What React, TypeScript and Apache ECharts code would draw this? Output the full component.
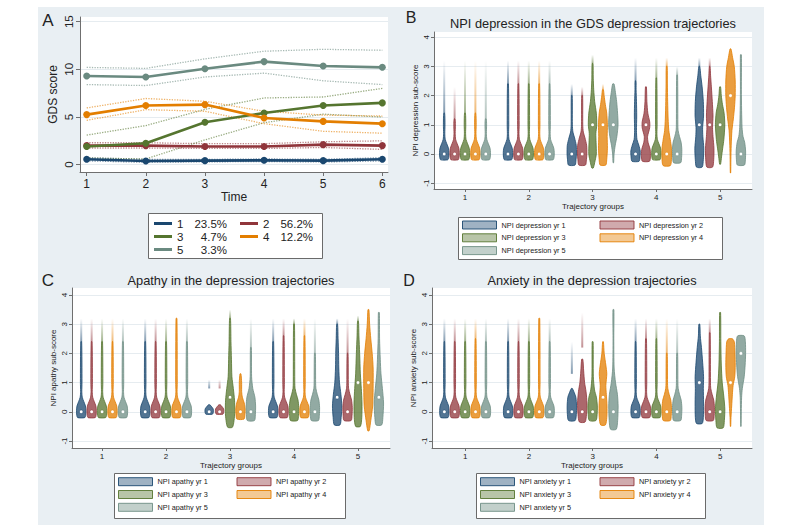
import React, { useEffect, useRef } from "react";
import * as echarts from "echarts";

const FONT = '"Liberation Sans", Arial, Helvetica, sans-serif';
const TXT = "#222222";
const AXISC = "#6f6f6f";
const GRIDC = "#e6ecf0";
const BG = "#e9eff3";

// ---------------- Panel A : GDS trajectories ----------------
const TIME = [1, 2, 3, 4, 5, 6];
const A_Y_TICKS = [0, 5, 10, 15];
const GROUPS = ["1", "2", "3", "4", "5"];
const GROUP_SHARE = ["23.5%", "56.2%", "4.7%", "12.2%", "3.3%"];
const GROUP_COLORS = ["#1a476f", "#90353b", "#55752f", "#e37e00", "#6a8a80"];
const MEAN_G1 = [0.56, 0.39, 0.42, 0.46, 0.42, 0.56];
const MEAN_G2 = [2.0, 2.0, 1.9, 1.9, 2.1, 2.0];
const MEAN_G3 = [1.9, 2.25, 4.44, 5.42, 6.2, 6.48];
const MEAN_G4 = [5.25, 6.2, 6.3, 4.9, 4.54, 4.3];
const MEAN_G5 = [9.3, 9.19, 10.07, 10.81, 10.35, 10.21];
const LO_G1 = [0.4, 0.25, 0.3, 0.32, 0.28, 0.4];
const HI_G1 = [0.72, 0.55, 0.55, 0.6, 0.56, 0.72];
const LO_G2 = [1.75, 1.75, 1.7, 1.7, 1.8, 1.6];
const HI_G2 = [2.3, 2.3, 2.2, 2.2, 2.4, 2.5];
const LO_G3 = [0.7, 0.6, 2.6, 4.4, 5.3, 5.0];
const HI_G3 = [3.1, 4.1, 5.8, 7.0, 7.1, 8.0];
const LO_G4 = [4.65, 5.77, 5.6, 4.3, 3.5, 3.3];
const HI_G4 = [5.95, 6.94, 6.65, 5.6, 5.2, 5.1];
const LO_G5 = [8.4, 8.3, 9.2, 9.6, 8.8, 8.4];
const HI_G5 = [10.2, 10.1, 11.1, 11.9, 12.1, 12.0];
const MEANS = [MEAN_G1, MEAN_G2, MEAN_G3, MEAN_G4, MEAN_G5];
const LOWS = [LO_G1, LO_G2, LO_G3, LO_G4, LO_G5];
const HIGHS = [HI_G1, HI_G2, HI_G3, HI_G4, HI_G5];

// ---------------- Violin panels ----------------
const TRAJ_GROUPS = [1, 2, 3, 4, 5];
const VIO_Y_TICKS = [-1, 0, 1, 2, 3, 4];
const YEARS = [1, 2, 3, 4, 5];
const YEAR_COLORS = ["#1a476f", "#90353b", "#55752f", "#e37e00", "#6e8e84"];

// density profiles: [score, relative half width]
const LOW = [[-0.2, 0.75], [-0.12, 0.95], [0.05, 1], [0.2, 0.9], [0.35, 0.55], [0.5, 0.22], [0.7, 0.13], [1.0, 0.17]];
const MID = [[-0.3, 0.75], [-0.12, 0.95], [0.15, 1], [0.4, 0.85], [0.6, 0.5], [0.8, 0.22], [1.0, 0.16]];
const TINY = [[-0.08, 0.7], [0.0, 0.9], [0.1, 0.85], [0.18, 0.5], [0.24, 0.15]];

const B_3_1 = [[-0.38, 0.7], [-0.2, 0.9], [0, 1], [0.3, 0.95], [0.55, 0.6], [0.75, 0.25], [1.0, 0.13]];
const B_3_3 = [[-0.48, 0.15], [-0.3, 0.45], [0, 0.8], [0.4, 0.75], [0.7, 0.7], [1.0, 0.9], [1.4, 0.8], [1.8, 0.45], [2.2, 0.25], [2.6, 0.15]];
const B_3_4 = [[-0.38, 0.6], [-0.2, 0.8], [0.2, 0.95], [0.6, 0.9], [1.0, 0.95], [1.4, 0.8], [1.7, 0.5], [2.0, 0.25], [2.2, 0.1]];
const B_3_5 = [[-0.3, 0.06], [0, 0.15], [0.3, 0.4], [0.6, 0.75], [1.0, 1], [1.4, 0.9], [1.8, 0.7], [2.1, 0.45], [2.4, 0.15]];
const B_4_1 = [[-0.25, 0.75], [-0.1, 0.95], [0.1, 1], [0.3, 0.7], [0.5, 0.3], [0.8, 0.2], [1.3, 0.25], [1.8, 0.2], [2.2, 0.12]];
const B_4_2 = [[-0.25, 0.75], [-0.1, 0.95], [0.15, 0.9], [0.4, 0.45], [0.6, 0.35], [0.9, 0.8], [1.1, 0.8], [1.4, 0.4], [1.8, 0.2]];
const B_4_4 = [[-0.4, 0.75], [-0.2, 1], [0.2, 1], [0.5, 0.75], [0.8, 0.45], [1.2, 0.3], [1.8, 0.2], [2.4, 0.14]];
const B_5_1 = [[-0.45, 0.6], [-0.2, 0.85], [0.2, 0.95], [0.6, 0.75], [0.9, 0.7], [1.3, 0.9], [1.8, 0.85], [2.3, 0.6], [2.7, 0.3], [3.0, 0.1]];
const B_5_2 = [[-0.45, 0.6], [-0.2, 0.85], [0.2, 0.9], [0.6, 0.7], [0.9, 0.6], [1.3, 0.7], [1.8, 0.55], [2.3, 0.35], [2.7, 0.18], [3.0, 0.08]];
const B_5_3 = [[-0.35, 0.1], [-0.1, 0.3], [0.2, 0.55], [0.5, 0.8], [1.0, 1], [1.4, 0.85], [1.7, 0.5], [2.0, 0.25], [2.3, 0.1]];
const B_5_4 = [[-0.65, 0.04], [-0.2, 0.08], [0.3, 0.15], [0.8, 0.3], [1.2, 0.6], [1.6, 0.85], [2.0, 1.0], [2.5, 1.0], [3.0, 0.8], [3.3, 0.45], [3.6, 0.1]];
const B_5_5 = [[-0.38, 0.75], [-0.2, 0.95], [0.1, 1], [0.4, 0.8], [0.6, 0.45], [0.9, 0.25], [1.5, 0.15], [2.2, 0.1]];

const C_3_3 = [[-0.53, 0.5], [-0.3, 0.85], [0.0, 1], [0.4, 0.95], [0.8, 0.7], [1.2, 0.4], [1.8, 0.3], [2.4, 0.2]];
const C_3_4 = [[-0.25, 0.75], [-0.1, 0.95], [0.1, 1], [0.3, 0.8], [0.5, 0.4], [0.7, 0.25], [1.0, 0.25], [1.3, 0.1]];
const C_3_5 = [[-0.3, 0.75], [-0.1, 0.95], [0.2, 1], [0.5, 0.85], [0.8, 0.4], [1.2, 0.15]];
const C_5_1 = [[-0.45, 0.6], [-0.2, 0.85], [0.2, 1], [0.6, 0.8], [1.0, 0.5], [1.5, 0.35], [2.0, 0.3], [2.5, 0.2]];
const C_5_3 = [[-0.5, 0.5], [-0.2, 0.8], [0.3, 0.85], [0.8, 0.7], [1.3, 0.5], [2.0, 0.35], [2.6, 0.2]];
const C_5_4 = [[-0.65, 0.15], [-0.3, 0.5], [0.2, 0.9], [0.8, 1], [1.5, 1], [2.0, 0.8], [2.5, 0.5], [3.0, 0.25]];
const C_5_5 = [[-0.45, 0.6], [-0.2, 0.85], [0.3, 1], [0.8, 0.75], [1.3, 0.45], [1.8, 0.3], [2.5, 0.15]];

const D_3_1 = [[-0.3, 0.7], [-0.1, 0.95], [0.2, 1], [0.5, 0.85], [0.7, 0.4], [0.8, 0.1]];
const D_3_2 = [[-0.35, 0.6], [-0.1, 0.9], [0.3, 1], [0.7, 0.8], [1.0, 0.5], [1.4, 0.3], [1.8, 0.12]];
const D_3_3 = [[-0.3, 0.7], [-0.1, 0.95], [0.2, 1], [0.5, 0.8], [0.75, 0.4], [1.2, 0.15]];
const D_3_4 = [[-0.45, 0.5], [-0.2, 0.8], [0.2, 0.85], [0.6, 0.7], [0.9, 0.6], [1.3, 0.8], [1.6, 0.6], [2.0, 0.25], [2.4, 0.08]];
const D_3_5 = [[-0.6, 0.6], [-0.3, 0.9], [0.2, 1], [0.6, 0.85], [1.0, 0.45], [1.5, 0.15], [2.5, 0.08]];
const D_5_1 = [[-0.4, 0.6], [-0.2, 0.85], [0.3, 0.9], [0.8, 0.85], [1.2, 0.9], [1.7, 0.7], [2.2, 0.45], [2.6, 0.2]];
const D_5_3 = [[-0.55, 0.65], [-0.3, 0.9], [0.1, 1], [0.5, 0.8], [1.0, 0.45], [1.6, 0.25], [2.4, 0.15]];
const D_5_4 = [[-0.5, 0.04], [-0.2, 0.1], [0.2, 0.25], [0.6, 0.4], [0.9, 0.55], [1.2, 0.9], [1.6, 1], [2.0, 0.95], [2.4, 0.8], [2.5, 0.4]];
const D_5_5 = [[-0.5, 0.04], [0.0, 0.08], [0.5, 0.15], [0.8, 0.3], [1.2, 0.7], [1.6, 0.9], [2.0, 1], [2.4, 0.95], [2.6, 0.7]];

// [group, year, median, profile, tail top, faded from, faded to]
const DEPRESSION_VIOLINS: any[] = [
  [1, 1, 0, LOW, 1.4, null, 3.2], [1, 2, 0, LOW, 1.2, null, 2.3], [1, 3, 0, LOW, 1.4, null, 3.2], [1, 4, 0, LOW, 1.4, null, 3.2], [1, 5, 0, LOW, 1.2, null, 3.2],
  [2, 1, 0, LOW, 2.4, null, 3.2], [2, 2, 0, LOW, 2.4, null, 3.2], [2, 3, 0, LOW, 2.4, null, 3.2], [2, 4, 0, LOW, 2.4, null, 3.2], [2, 5, 0, LOW, 2.4, null, 3.2],
  [3, 1, 0, B_3_1, 2.0, null, 2.4], [3, 2, 0, B_3_1, 2.0, null, 2.3], [3, 3, 1, B_3_3, 3.1, null, 3.4], [3, 4, 1, B_3_4, 2.2, null, 2.4], [3, 5, 1, B_3_5, 2.4, null, null],
  [4, 1, 0, B_4_1, 2.5, null, 3.3], [4, 2, 1, B_4_2, 2.3, null, null], [4, 3, 0, LOW, 2.6, null, 3.3], [4, 4, 0, B_4_4, 3.0, null, 3.3], [4, 5, 0, MID, 2.7, null, 3.0],
  [5, 1, 1, B_5_1, 3.0, null, 3.3], [5, 2, 1, B_5_2, 3.0, null, 3.3], [5, 3, 1, B_5_3, 2.3, null, null], [5, 4, 2, B_5_4, 3.6, null, null], [5, 5, 0, B_5_5, 3.4, null, null],
];
const APATHY_VIOLINS: any[] = [
  [1, 1, 0, LOW, 2.4, null, 3.2], [1, 2, 0, LOW, 2.4, null, 3.2], [1, 3, 0, LOW, 2.4, null, 3.2], [1, 4, 0, LOW, 2.4, null, 3.2], [1, 5, 0, LOW, 2.4, null, 3.2],
  [2, 1, 0, LOW, 2.4, null, 3.2], [2, 2, 0, LOW, 2.4, null, 3.2], [2, 3, 0, LOW, 2.4, null, 3.2], [2, 4, 0, LOW, 3.2, null, null], [2, 5, 0, LOW, 2.4, null, 3.2],
  [3, 1, 0, TINY, null, 0.8, 1.1], [3, 2, 0, TINY, null, 0.8, 1.1], [3, 3, 0.5, C_3_3, 3.2, null, 3.5], [3, 4, 0, C_3_4, 1.3, null, null], [3, 5, 0, C_3_5, 2.2, null, 3.2],
  [4, 1, 0, LOW, 2.4, null, 3.2], [4, 2, 0, LOW, 2.6, null, 3.2], [4, 3, 0, MID, 3.0, null, 3.2], [4, 4, 0, LOW, 2.6, null, 3.2], [4, 5, 0, MID, 2.0, null, 3.2],
  [5, 1, 0.5, C_5_1, 3.0, null, 3.2], [5, 2, 0, MID, 2.0, null, 3.2], [5, 3, 1, C_5_3, 3.1, null, 3.3], [5, 4, 1, C_5_4, 3.5, null, null], [5, 5, 0.5, C_5_5, 3.4, null, null],
];
const ANXIETY_VIOLINS: any[] = [
  [1, 1, 0, LOW, 2.4, null, 3.2], [1, 2, 0, LOW, 2.4, null, 3.2], [1, 3, 0, LOW, 2.4, null, 3.2], [1, 4, 0, LOW, 2.5, null, 3.2], [1, 5, 0, LOW, 2.4, null, 3.2],
  [2, 1, 0, LOW, 2.4, null, 3.2], [2, 2, 0, LOW, 2.4, null, 3.2], [2, 3, 0, LOW, 2.4, null, 3.2], [2, 4, 0, LOW, 3.2, null, null], [2, 5, 0, LOW, 2.4, null, 3.2],
  [3, 1, 0, D_3_1, null, 1.3, 2.4], [3, 2, 0, D_3_2, null, 2.2, 3.4], [3, 3, 0, D_3_3, 2.4, null, null], [3, 4, 0.5, D_3_4, null, null, null], [3, 5, 0, D_3_5, 3.5, null, null],
  [4, 1, 0, LOW, 2.4, null, 3.2], [4, 2, 0, LOW, 2.5, null, 3.2], [4, 3, 0, LOW, 2.5, null, 3.2], [4, 4, 0, MID, 2.0, null, 3.2], [4, 5, 0, MID, 2.0, null, 3.2],
  [5, 1, 1, D_5_1, 3.0, null, null], [5, 2, 0, MID, 2.7, null, 3.2], [5, 3, 0, D_5_3, 3.4, null, null], [5, 4, 1, D_5_4, null, null, null], [5, 5, 2, D_5_5, null, null, null],
];

const PANELS = [
  { key: "depression", list: DEPRESSION_VIOLINS, ytitle: "NPI depression sub-score" },
  { key: "apathy", list: APATHY_VIOLINS, ytitle: "NPI apathy sub-score" },
  { key: "anxiety", list: ANXIETY_VIOLINS, ytitle: "NPI anxiety sub-score" },
];

const OFFSET = 0.163; // spacing of years within a group (axis units)
const HALF = 4.7; // px for relative width 1
const TAIL_W = 0.1;

function rgba(hex: string, a: number) {
  const n = parseInt(hex.slice(1), 16);
  return `rgba(${(n >> 16) & 255},${(n >> 8) & 255},${n & 255},${a})`;
}

function makeRender(list: any[]) {
  return (params: any, api: any) => {
    const spec = list[api.value(2)];
    const [, yr, med, prof, tailTop, fadeFrom, fadeTo] = spec;
    const col = YEAR_COLORS[yr - 1];
    const xc = api.coord([api.value(0), 0])[0];
    const py = (v: number) => api.coord([api.value(0), v])[1];
    const pts = prof.slice();
    const last = pts[pts.length - 1];
    if (tailTop != null && tailTop > last[0]) pts.push([tailTop, TAIL_W]);
    const left = pts.map(([y, w]: number[]) => [xc - w * HALF, py(y)]);
    const right = pts.slice().reverse().map(([y, w]: number[]) => [xc + w * HALF, py(y)]);
    const children: any[] = [];
    if (fadeTo != null) {
      const f0 = fadeFrom != null ? fadeFrom : pts[pts.length - 1][0];
      const yb = py(f0);
      const yt = py(fadeTo);
      children.push({
        type: "rect",
        shape: { x: xc - 1, y: yt, width: 2, height: yb - yt },
        style: {
          fill: new echarts.graphic.LinearGradient(0, 0, 0, 1, [
            { offset: 0, color: rgba(col, 0) },
            { offset: 1, color: rgba(col, 0.55) },
          ]),
        },
      });
    }
    children.push({
      type: "polygon",
      shape: { points: left.concat(right), smooth: 0.25 },
      style: { fill: rgba(col, 0.75), stroke: col, lineWidth: 0.8 },
    });
    children.push({
      type: "circle",
      shape: { cx: xc, cy: py(med), r: 1.8 },
      style: { fill: "#ffffff", stroke: col, lineWidth: 0.5 },
    });
    return { type: "group", children };
  };
}

const GRIDS = [
  { left: 80, top: 17, width: 308, height: 155 },
  { left: 434, top: 32, width: 318, height: 157 },
  { left: 72, top: 288, width: 318, height: 160 },
  { left: 432, top: 288, width: 320, height: 160 },
];
const VIO_X = [
  { min: 0.514, max: 5.5 },
  { min: 0.53, max: 5.5 },
  { min: 0.48, max: 5.5 },
];
const VIO_Y = [
  { min: -1.2, max: 4.18 },
  { min: -1.24, max: 4.24 },
  { min: -1.24, max: 4.24 },
];

function buildOption() {
  const axisLine = { show: true, onZero: false, lineStyle: { color: AXISC, width: 1 } };
  const xAxis: any[] = [
    {
      type: "value", gridIndex: 0, min: 0.887, max: 6.096,
      axisLine, axisTick: { show: true, customValues: TIME, length: 4, lineStyle: { color: AXISC } },
      axisLabel: { customValues: TIME, fontSize: 12, color: TXT, margin: 6, fontFamily: FONT },
      splitLine: { show: false },
      name: "Time", nameLocation: "middle", nameGap: 19,
      nameTextStyle: { fontSize: 12, color: TXT, fontFamily: FONT },
    },
  ];
  const yAxis: any[] = [
    {
      type: "value", gridIndex: 0, min: -0.77, max: 15.49,
      axisLine, axisTick: { show: true, customValues: A_Y_TICKS, length: 4, lineStyle: { color: AXISC } },
      axisLabel: { customValues: A_Y_TICKS, fontSize: 11.5, color: TXT, rotate: 90, margin: 5, fontFamily: FONT },
      splitLine: { show: true, lineStyle: { color: GRIDC, width: 1 } },
      name: "GDS score", nameLocation: "middle", nameGap: 21, nameRotate: 90,
      nameTextStyle: { fontSize: 12, color: TXT, fontFamily: FONT },
    },
  ];
  PANELS.forEach((p, i) => {
    xAxis.push({
      type: "value", gridIndex: i + 1, min: VIO_X[i].min, max: VIO_X[i].max,
      axisLine, axisTick: { show: true, customValues: TRAJ_GROUPS, length: 3, lineStyle: { color: AXISC } },
      axisLabel: { customValues: TRAJ_GROUPS, fontSize: 8, color: TXT, margin: 4, fontFamily: FONT },
      splitLine: { show: false },
      name: "Trajectory groups", nameLocation: "middle", nameGap: 13,
      nameTextStyle: { fontSize: 8, color: TXT, fontFamily: FONT },
    });
    yAxis.push({
      type: "value", gridIndex: i + 1, min: VIO_Y[i].min, max: VIO_Y[i].max,
      axisLine, axisTick: { show: true, customValues: VIO_Y_TICKS, length: 3, lineStyle: { color: AXISC } },
      axisLabel: { customValues: VIO_Y_TICKS, fontSize: 8, color: TXT, rotate: 90, margin: 4, fontFamily: FONT },
      splitLine: { show: true, lineStyle: { color: GRIDC, width: 1 } },
      name: p.ytitle, nameLocation: "middle", nameGap: 15, nameRotate: 90,
      nameTextStyle: { fontSize: 8, color: TXT, fontFamily: FONT },
    });
  });

  const series: any[] = [];
  GROUPS.forEach((g, gi) => {
    const col = GROUP_COLORS[gi];
    [LOWS[gi], HIGHS[gi]].forEach((arr, k) => {
      series.push({
        type: "line", name: `ci-${g}-${k}`, xAxisIndex: 0, yAxisIndex: 0,
        data: TIME.map((t, i) => [t, arr[i]]), symbol: "none", silent: true, z: 1,
        lineStyle: { color: rgba(col, 0.6), width: 1.3, type: "dotted" },
      });
    });
  });
  GROUPS.forEach((g, gi) => {
    const col = GROUP_COLORS[gi];
    series.push({
      type: "line", name: g, xAxisIndex: 0, yAxisIndex: 0,
      data: TIME.map((t, i) => [t, MEANS[gi][i]]),
      symbol: "circle", symbolSize: 7, z: 3,
      itemStyle: { color: col },
      lineStyle: { color: col, width: 2.6 },
    });
  });

  PANELS.forEach((p, pi) => {
    YEARS.forEach((yr) => {
      const data: number[][] = [];
      p.list.forEach((s: any[], idx: number) => {
        if (s[1] === yr) data.push([s[0] + (yr - 3) * OFFSET, s[2], idx]);
      });
      series.push({
        type: "custom", name: `NPI ${p.key} yr ${yr}`,
        xAxisIndex: pi + 1, yAxisIndex: pi + 1,
        itemStyle: { color: YEAR_COLORS[yr - 1] },
        renderItem: makeRender(p.list),
        encode: { x: 0, y: 1 },
        data, silent: true,
      });
    });
  });

  const vioLegend = (key: string, left: number, top: number, textW: number) => ({
    data: YEARS.map((yr) => ({
      name: `NPI ${key} yr ${yr}`,
      itemStyle: { color: rgba(YEAR_COLORS[yr - 1], 0.42), borderColor: rgba(YEAR_COLORS[yr - 1], 0.9), borderWidth: 1 },
    })),
    left, top, width: 2 * (34 + 5 + textW + 2) + 10, orient: "horizontal",
    icon: "rect", itemWidth: 34, itemHeight: 8, itemGap: 2, padding: 0,
    selectedMode: false,
    textStyle: { fontSize: 7.3, lineHeight: 10.8, width: textW, color: TXT, fontFamily: FONT },
  });

  const groupLegend = (names: string[], left: number) => ({
    data: names, left, top: 217.5, orient: "vertical",
    icon: "rect", itemWidth: 18, itemHeight: 3, itemGap: 1, padding: 0, selectedMode: false,
    formatter: (name: string) => `{n|${name}}{p|${GROUP_SHARE[GROUPS.indexOf(name)]}}`,
    textStyle: {
      lineHeight: 11, fontSize: 11.5, color: TXT, fontFamily: FONT,
      rich: {
        n: { width: 14, fontSize: 11.5, lineHeight: 11, color: TXT, fontFamily: FONT },
        p: { width: 36, align: "right", fontSize: 11.5, lineHeight: 11, color: TXT, fontFamily: FONT },
      },
    },
  });

  const legend: any[] = [
    groupLegend(["1", "3", "5"], 154),
    groupLegend(["2", "4"], 240),
    vioLegend("depression", 462, 219.6, 96),
    vioLegend("apathy", 118, 476.3, 77),
    vioLegend("anxiety", 480, 476.3, 78),
  ];

  const txt = (text: string, x: number, y: number, size: number) => ({
    type: "text", x, y, silent: true,
    style: { text, fontSize: size, fill: TXT, fontFamily: FONT, align: "center", verticalAlign: "middle" },
  });
  const box = (x: number, y: number, w: number, h: number) => ({
    type: "rect", z: -50, silent: true,
    shape: { x: x + 0.5, y: y + 0.5, width: w, height: h },
    style: { fill: "#ffffff", stroke: "#6a6a6a", lineWidth: 1 },
  });

  const graphic: any[] = [
    { type: "rect", z: -100, silent: true, shape: { x: 38, y: 7, width: 726, height: 518 }, style: { fill: BG } },
    box(148, 213, 174, 45),
    box(458, 217, 264, 42),
    box(114, 473, 231, 45),
    box(476, 473, 229, 45),
    txt("A", 48, 20, 17),
    txt("B", 411, 17, 16),
    txt("C", 48, 280, 17),
    txt("D", 409, 280, 16),
    txt("NPI depression in the GDS depression trajectories", 593, 23, 12.8),
    txt("Apathy in the depression trajectories", 231, 280, 12.8),
    txt("Anxiety in the depression trajectories", 592, 280, 12.8),
  ];

  return {
    animation: false,
    backgroundColor: "#ffffff",
    textStyle: { fontFamily: FONT },
    grid: GRIDS.map((g) => ({ ...g, show: true, backgroundColor: "#ffffff", borderWidth: 0, containLabel: false })),
    xAxis, yAxis, series, legend, graphic,
  };
}

export default function App() {
  const ref = useRef<HTMLDivElement>(null);
  useEffect(() => {
    if (!ref.current) return;
    const chart = echarts.init(ref.current, null, { renderer: "svg" });
    chart.setOption(buildOption() as any);
    return () => chart.dispose();
  }, []);
  return (
    <div
      ref={ref}
      style={{ position: "fixed", left: 0, top: 0, width: 800, height: 530 }}
    />
  );
}
